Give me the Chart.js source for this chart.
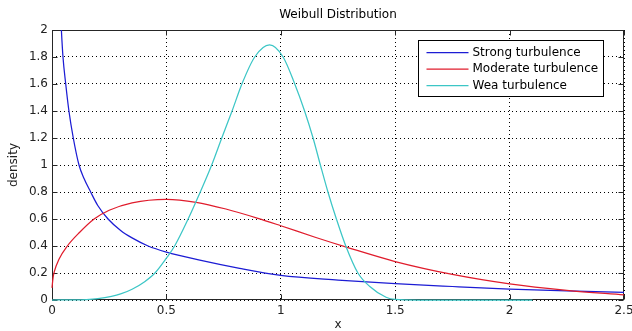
<!DOCTYPE html>
<html><head><meta charset="utf-8">
<script src="https://cdn.jsdelivr.net/npm/chart.js@4"></script>
<style>html,body{margin:0;padding:0;background:#fff}</style>
</head><body>
<canvas id="c" width="632" height="331"></canvas>
<script>
const chartTitle = 'Weibull Distribution';
const xAxisTitle = 'x';
const yAxisTitle = 'density';
const seriesLabels = ['Strong turbulence', 'Moderate turbulence', 'Wea turbulence'];
const seriesColors = ['#1c1cd4', '#e01c2c', '#3cc6c6'];
const xTickLabels = ['0', '0.5', '1', '1.5', '2', '2.5'];
const yTickLabels = ['0', '0.2', '0.4', '0.6', '0.8', '1', '1.2', '1.4', '1.6', '1.8', '2'];

const strongX = [0.03, 0.041, 0.048, 0.06, 0.074, 0.093, 0.118, 0.14, 0.169, 0.2, 0.245, 0.3, 0.35, 0.42, 0.5, 0.646, 0.82, 1.0, 1.25, 1.5, 1.75, 2.0, 2.25, 2.5];
const strongY = [2.4, 2.0, 1.8, 1.6, 1.4, 1.2, 1.0, 0.9, 0.8, 0.7, 0.6, 0.515, 0.46, 0.4, 0.355, 0.296, 0.235, 0.183, 0.148, 0.121, 0.1, 0.081, 0.067, 0.057];

const moderateX = [0, 0.005, 0.01, 0.03, 0.067, 0.12, 0.184, 0.25, 0.35, 0.5, 0.63, 0.76, 0.9, 1.0, 1.15, 1.29, 1.5, 1.75, 2.0, 2.25, 2.5];
const moderateY = [0.09, 0.17, 0.21, 0.30, 0.40, 0.5, 0.6, 0.665, 0.72, 0.746, 0.724, 0.674, 0.605, 0.55, 0.465, 0.39, 0.285, 0.19, 0.12, 0.072, 0.038];

const weakX = [0, 0.1, 0.15, 0.2, 0.26, 0.3, 0.35, 0.405, 0.45, 0.5, 0.536, 0.595, 0.648, 0.698, 0.742, 0.787, 0.83, 0.886, 0.951, 1.01, 1.061, 1.104, 1.141, 1.173, 1.206, 1.243, 1.284, 1.337, 1.389, 1.46, 1.5, 1.6, 2.1];
const weakY = [0, 0.0005, 0.003, 0.01, 0.027, 0.045, 0.08, 0.136, 0.2, 0.31, 0.40, 0.6, 0.8, 1.0, 1.2, 1.4, 1.6, 1.8, 1.889, 1.8, 1.6, 1.4, 1.2, 1.0, 0.8, 0.6, 0.4, 0.2, 0.1, 0.02, 0.004, 0, 0];

const seriesX = [strongX, moderateX, weakX];
const seriesY = [strongY, moderateY, weakY];

const datasets = seriesLabels.map((label, i) => ({
  label,
  data: seriesX[i].map((x, j) => ({x, y: seriesY[i][j]})),
  borderColor: seriesColors[i],
  backgroundColor: seriesColors[i],
  borderWidth: 1.25,
  pointRadius: 0,
  fill: false,
  cubicInterpolationMode: 'monotone',
  clip: {left: 1, right: 1, top: 0, bottom: 2},
  order: 3 - i
}));

Chart.defaults.font.family = 'DejaVu Sans';
Chart.defaults.font.size = 12;
Chart.defaults.color = '#222';

const matlabFrame = {
  id: 'matlabFrame',
  afterLayout(chart) {
    const t = chart.titleBlock;
    if (t) { t.left = chart.chartArea.left; t.right = chart.chartArea.right; t.width = t.right - t.left; }
  },
  beforeDatasetsDraw(chart) {
    const {ctx, chartArea: a, scales: {x, y}} = chart;
    const L = Math.round(a.left) + 0.5, R = Math.round(a.right) - 0.5;
    const T = Math.round(a.top) + 0.5, B = Math.round(a.bottom) - 0.5;
    ctx.save();
    ctx.strokeStyle = '#262626';
    ctx.lineWidth = 1;
    ctx.setLineDash([]);
    ctx.strokeRect(L, T, R - L, B - T);
    const len = 5;
    ctx.beginPath();
    x.ticks.forEach(t => {
      const px = Math.round(x.getPixelForValue(t.value)) + 0.5;
      ctx.moveTo(px, B); ctx.lineTo(px, B - len);
      ctx.moveTo(px, T); ctx.lineTo(px, T + len);
    });
    y.ticks.forEach(t => {
      const py = Math.round(y.getPixelForValue(t.value)) + 0.5;
      ctx.moveTo(L, py); ctx.lineTo(L + len, py);
      ctx.moveTo(R, py); ctx.lineTo(R - len, py);
    });
    ctx.stroke();
    ctx.restore();
  },
  afterDatasetsDraw(chart) {
    const {ctx, chartArea: a} = chart;
    ctx.save();
    const bx = Math.round(a.right - 21) + 0.5, by = Math.round(a.top + 10) + 0.5;
    const bw = 185, bh = 56;
    ctx.fillStyle = '#fff';
    ctx.fillRect(bx - bw, by, bw, bh);
    ctx.strokeStyle = '#000';
    ctx.lineWidth = 1;
    ctx.strokeRect(bx - bw, by, bw, bh);
    ctx.font = '12px "DejaVu Sans"';
    ctx.textBaseline = 'middle';
    ctx.textAlign = 'left';
    chart.data.datasets.forEach((ds, i) => {
      const ry = by + 12 + i * 16.5;
      ctx.strokeStyle = ds.borderColor;
      ctx.lineWidth = 1.25;
      ctx.beginPath();
      ctx.moveTo(bx - bw + 8, ry); ctx.lineTo(bx - bw + 50, ry);
      ctx.stroke();
      ctx.fillStyle = '#000';
      ctx.fillText(ds.label, bx - bw + 54, ry);
    });
    ctx.restore();
  }
};

new Chart(document.getElementById('c'), {
  type: 'line',
  data: {datasets},
  plugins: [matlabFrame],
  options: {
    responsive: false,
    animation: false,
    layout: {padding: 0},
    plugins: {
      legend: {display: false},
      tooltip: {enabled: false},
      title: {
        display: true, text: chartTitle, color: '#000',
        font: {family: 'DejaVu Sans', size: 12, weight: 'normal'},
        padding: {top: 7.8, bottom: 7.8}
      }
    },
    scales: {
      x: {
        type: 'linear', min: 0, max: 2.5,
        ticks: {stepSize: 0.5, padding: 4, maxRotation: 0, autoSkip: false,
          callback: (v, i) => xTickLabels[i]},
        grid: {color: '#000', lineWidth: 1, drawTicks: false},
        border: {display: false, dash: [1, 3]},
        title: {display: true, text: xAxisTitle, color: '#222',
          font: {size: 12, lineHeight: 1}, padding: 0},
        afterFit: s => { s.height = 31; s.paddingRight = 8; }
      },
      y: {
        type: 'linear', min: 0, max: 2,
        ticks: {stepSize: 0.2, padding: 4, autoSkip: false,
          callback: (v, i) => yTickLabels[i]},
        grid: {color: '#000', lineWidth: 1, drawTicks: false},
        border: {display: false, dash: [1, 3]},
        title: {display: true, text: yAxisTitle, color: '#222',
          font: {size: 12}, padding: {top: 6.8, bottom: 0}},
        afterFit: s => { s.width = 52; }
      }
    }
  }
});
</script>
</body></html>
